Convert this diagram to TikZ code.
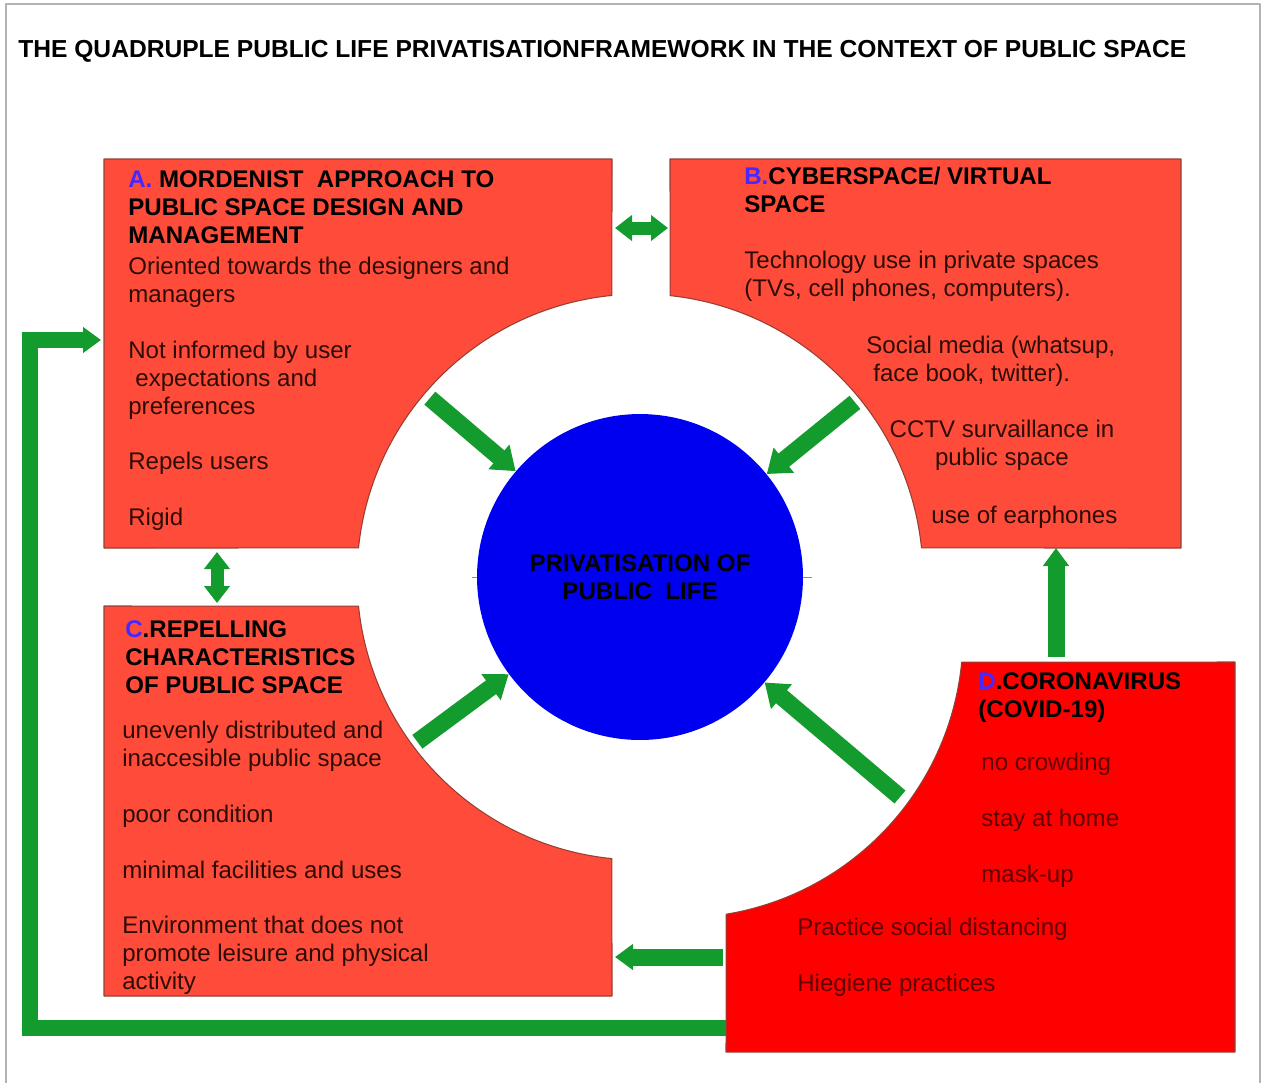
\documentclass[tikz,border=0pt]{standalone}
\usepackage{fontspec}
\setmainfont{Liberation Sans}
\usetikzlibrary{arrows.meta}
\definecolor{boxred}{RGB}{255,76,58}
\definecolor{covidred}{RGB}{255,0,0}
\definecolor{edgered}{RGB}{150,62,52}
\definecolor{coreblue}{RGB}{0,0,240}
\definecolor{letterblue}{RGB}{70,40,255}
\definecolor{arrowgreen}{RGB}{20,155,45}
\definecolor{inkbrown}{RGB}{45,12,5}
\definecolor{inkmaroon}{RGB}{95,0,0}
\newcommand{\lbl}[1]{\textcolor{letterblue}{#1}}
\begin{document}
\begin{tikzpicture}[x=0.02cm, y=-0.02cm, line join=round,
  txt/.style={anchor=north west, inner sep=0pt, align=left, text=inkbrown, font=\fontsize{13.7}{15.9}\selectfont},
  hd/.style={txt, text=black, font=\fontsize{13.7}{15.9}\selectfont\bfseries},
  panel/.style={fill=boxred, draw=edgered, line width=0.6pt},
  fat/.style={draw=arrowgreen, line width=0.34cm, -{Triangle[width=0.62cm,length=0.44cm]}},
  twin/.style={draw=arrowgreen, line width=0.26cm, {Triangle[width=0.5cm,length=0.34cm]}-{Triangle[width=0.5cm,length=0.34cm]}},
  link/.style={draw=arrowgreen, line width=0.34cm, -{Triangle[width=0.5cm,length=0.36cm]}}]
\def\cx{640} \def\cy{577} \def\R{283}
\useasboundingbox (0,0) rectangle (1263,1083);
\draw[black!30, line width=1.2pt] (6,1083)--(6,4)--(1260,4)--(1260,1083);
\node[hd, font=\fontsize{14}{16}\selectfont\bfseries] (title) at (18,39.5)
  {THE QUADRUPLE PUBLIC LIFE PRIVATISATIONFRAMEWORK IN THE CONTEXT OF PUBLIC SPACE};
\filldraw[panel] (104,159) -- (612,159) -- ([shift={(\cx,\cy)}]264.3:\R)
  arc[start angle=264.3, end angle=185.9, radius=\R] -- (104,548) -- cycle;
\filldraw[panel] (670,159) -- (1181,159) -- (1181,548) -- ([shift={(\cx,\cy)}]354.1:\R)
  arc[start angle=354.1, end angle=276.1, radius=\R] -- cycle;
\filldraw[panel] (104,606) -- ([shift={(\cx,\cy)}]174.1:\R)
  arc[start angle=174.1, end angle=95.7, radius=\R] -- (612,996) -- (104,996) -- cycle;
\filldraw[panel, fill=covidred] (726,1052) -- ([shift={(680,635)}]80.6:\R)
  arc[start angle=80.6, end angle=5.5, radius=\R] -- (1235,662) -- (1235,1052) -- cycle;
\node[hd] (aHead) at (128,170.6) {\lbl{A.} MORDENIST\ \ APPROACH TO\\PUBLIC SPACE DESIGN AND\\MANAGEMENT};
\node[txt] (aBody) at (128,256.6) {Oriented towards the designers and\\managers\\[15.9pt]Not informed by user\\\hspace*{4pt}expectations and\\preferences\\[15.9pt]Repels users\\[15.9pt]Rigid};
\node[hd] (bHead) at (744,166.6) {\lbl{B.}CYBERSPACE/ VIRTUAL\\SPACE};
\node[txt] (bTech) at (744,250.6) {Technology use in private spaces\\(TVs, cell phones, computers).};
\node[txt] (bSocial) at (866,335.6) {Social media (whatsup,\\\hspace*{4pt}face book, twitter).};
\node[txt, anchor=north, align=center] (bCctv) at (1002,419.6) {CCTV survaillance in\\public space};
\node[txt] (bEar) at (931,505.6) {use of earphones};
\node[hd] (cHead) at (125,620.6) {\lbl{C}.REPELLING\\CHARACTERISTICS\\OF PUBLIC SPACE};
\node[txt] (cBody) at (122,720.6) {unevenly distributed and\\inaccesible public space\\[15.9pt]poor condition\\[15.9pt]minimal facilities and uses\\[15.9pt]Environment that does not\\promote leisure and physical\\activity};
\node[hd] (dHead) at (978,672.6) {\lbl{D}.CORONAVIRUS\\(COVID-19)};
\node[txt, text=inkmaroon] (dRules) at (981,752.6) {no crowding\\[15.9pt]stay at home\\[15.9pt]mask-up};
\node[txt, text=inkmaroon] (dHabits) at (797,917.6) {Practice social distancing\\[15.9pt]Hiegiene practices};
\draw[black!45, line width=0.5pt] (472,\cy) -- (812,\cy);
\node[circle, fill=coreblue, minimum size=6.52cm, inner sep=0pt, align=center,
  font=\fontsize{13.7}{15.9}\selectfont\bfseries] (core) at (\cx,\cy) {PRIVATISATION OF\\PUBLIC\ \ LIFE};
\coordinate (aTail) at ([shift={(\cx,\cy)}]220.4:276);
\coordinate (bTail) at ([shift={(\cx,\cy)}]320.9:277);
\coordinate (cTail) at ([shift={(\cx,\cy)}]143.5:277);
\coordinate (dTail) at (900,797);
\coordinate (aEast) at (615,228);
\coordinate (bWest) at (668,228);
\coordinate (aSouth) at (217,552);
\coordinate (cNorth) at (217,603);
\coordinate (dWest) at (723,957);
\coordinate (cEast) at (615,957);
\coordinate (dNorth) at (1056,657);
\coordinate (bSouth) at (1056,548);
\coordinate (dLoop) at (726,1028);
\coordinate (aLoop) at (101,340);
\foreach \t in {aTail,bTail,cTail,dTail}
  \draw[fat] (\t) -- (core);
\draw[twin] (aEast) -- (bWest);
\draw[twin] (aSouth) -- (cNorth);
\draw[link] (dWest) -- (cEast);
\draw[link] (dNorth) -- (bSouth);
\draw[link, line width=0.32cm, line join=miter] (dLoop) -- ++(-696,0) |- (aLoop);
\end{tikzpicture}
\end{document}
